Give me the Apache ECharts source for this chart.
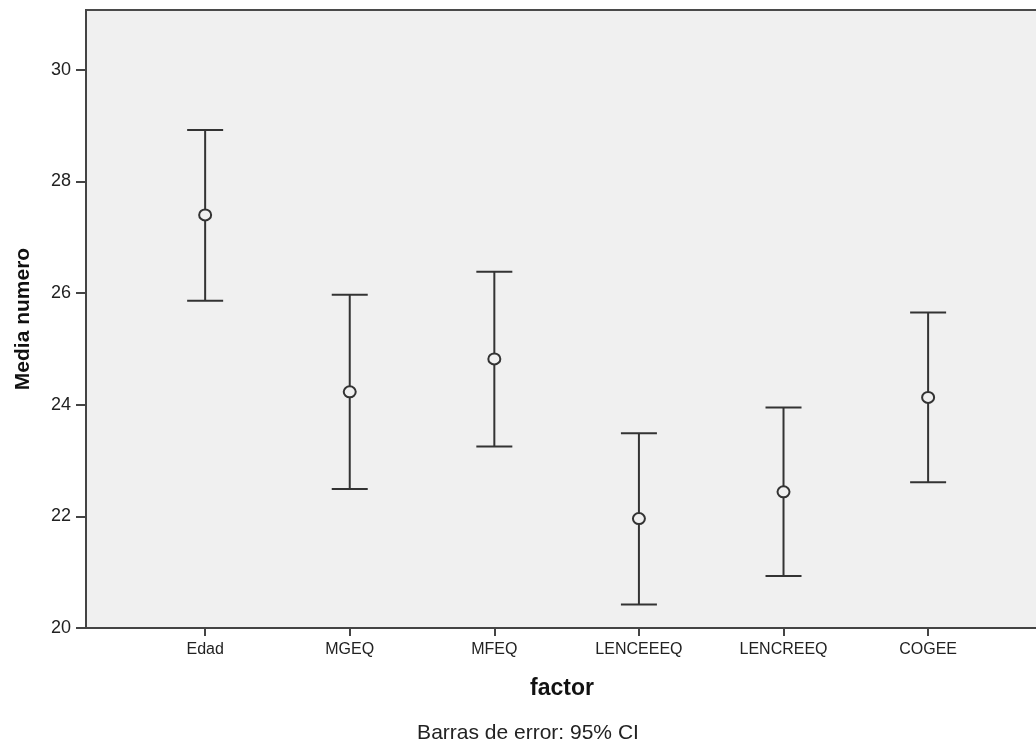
<!DOCTYPE html>
<html>
<head>
<meta charset="utf-8">
<script src="https://cdn.jsdelivr.net/npm/echarts@6/dist/echarts.min.js"></script>
<style>
html,body{margin:0;padding:0;background:#fff;}
#chart{width:1036px;height:743px;}
</style>
</head>
<body>
<div id="chart"></div>
<script>
const categories = ['Edad', 'MGEQ', 'MFEQ', 'LENCEEEQ', 'LENCREEQ', 'COGEE'];
const means  = [27.40, 24.23, 24.82, 21.96, 22.44, 24.13];
const lowers = [25.86, 22.49, 23.25, 20.42, 20.93, 22.61];
const uppers = [28.92, 25.97, 26.38, 23.49, 23.95, 25.65];
const yTicks = [20, 22, 24, 26, 28, 30];

const FONT = '"Liberation Sans", Arial, sans-serif';
const data = categories.map((c, i) => [i, means[i], lowers[i], uppers[i]]);

const chart = echarts.init(document.getElementById('chart'));
chart.setOption({
  animation: false,
  backgroundColor: '#ffffff',
  title: {
    text: 'Barras de error: 95% CI',
    left: 523, top: 718, textAlign: 'center',
    textStyle: { fontFamily: FONT, fontSize: 21, fontWeight: 'normal', color: '#222' }
  },
  grid: {
    left: 86, right: -2, top: 10, bottom: 115,
    outerBoundsMode: 'none', containLabel: false,
    show: true, backgroundColor: '#f0f0f0', borderColor: '#4a4a4a', borderWidth: 2
  },
  xAxis: {
    type: 'value', min: -0.824, max: 5.76,
    name: 'factor', nameLocation: 'middle', nameGap: 49,
    nameTextStyle: { fontFamily: FONT, fontSize: 23, fontWeight: 'bold', color: '#111' },
    splitLine: { show: false },
    axisLine: { show: true, onZero: false, lineStyle: { color: '#444', width: 2 } },
    axisTick: { show: true, length: 8, customValues: categories.map((c, i) => i), lineStyle: { color: '#444', width: 2 } },
    axisLabel: {
      customValues: categories.map((c, i) => i), margin: 14,
      formatter: v => categories[Math.round(v)] || '',
      fontFamily: FONT, fontSize: 16, color: '#222'
    }
  },
  yAxis: {
    type: 'value', min: 20, max: 31.07,
    name: 'Media numero', nameLocation: 'middle', nameGap: 52, nameRotate: 90,
    nameTextStyle: { fontFamily: FONT, fontSize: 21, fontWeight: 'bold', color: '#111' },
    splitLine: { show: false },
    axisLine: { show: true, onZero: false, lineStyle: { color: '#444', width: 2 } },
    axisTick: { show: true, length: 10, customValues: yTicks, lineStyle: { color: '#444', width: 2 } },
    axisLabel: { customValues: yTicks, margin: 15, fontFamily: FONT, fontSize: 18, color: '#222' }
  },
  series: [{
    type: 'custom',
    data: data,
    encode: { x: 0, y: [1, 2, 3] },
    renderItem: function (params, api) {
      const x = api.value(0);
      const pm = api.coord([x, api.value(1)]);
      const pl = api.coord([x, api.value(2)]);
      const pu = api.coord([x, api.value(3)]);
      const half = 18;
      const style = { stroke: '#333', lineWidth: 2 };
      return {
        type: 'group',
        children: [
          { type: 'line', shape: { x1: pl[0], y1: pl[1], x2: pu[0], y2: pu[1] }, style: style },
          { type: 'line', shape: { x1: pu[0] - half, y1: pu[1], x2: pu[0] + half, y2: pu[1] }, style: style },
          { type: 'line', shape: { x1: pl[0] - half, y1: pl[1], x2: pl[0] + half, y2: pl[1] }, style: style },
          { type: 'ellipse', shape: { cx: pm[0], cy: pm[1], rx: 6, ry: 5.5 }, style: { fill: '#f0f0f0', stroke: '#333', lineWidth: 2 } }
        ]
      };
    }
  }]
});
</script>
</body>
</html>
